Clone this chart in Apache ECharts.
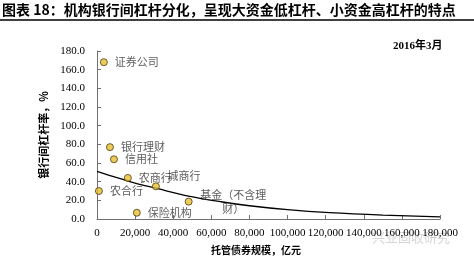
<!DOCTYPE html>
<html>
<head>
<meta charset="utf-8">
<script src="https://cdn.jsdelivr.net/npm/echarts@6/dist/echarts.min.js"></script>
<style>
html,body{margin:0;padding:0;background:#fff;}
#chart{width:474px;height:261px;}
</style>
</head>
<body>
<div id="chart"></div>
<script>
// Data
var names = ['证券公司', '银行理财', '信用社', '农商行', '城商行', '农合行', '基金（不含理\n财）', '保险机构'];
var scaleX = [3600, 6800, 8900, 16200, 30900, 1000, 48100, 20900];   // 托管债券规模, 亿元
var leverY = [168, 77, 64, 44, 35, 30, 18.6, 6.7];                    // 银行间杠杆率, %
// Trend line points
var trendX = [0, 10000, 20000, 31000, 48000, 65000, 80000, 100000, 122000, 150000, 180000];
var trendY = [51, 44.5, 38.5, 33, 24.5, 18.5, 14.2, 10, 6.8, 4.2, 2.3];
var xTicks = [0, 20000, 40000, 60000, 80000, 100000, 120000, 140000, 160000, 180000];
var yTicks = [0, 20, 40, 60, 80, 100, 120, 140, 160, 180];

var serif = '"Liberation Serif", "Noto Sans CJK SC", serif';
var cjk = '"Noto Sans CJK SC", sans-serif';

var scatterData = names.map(function (n, i) {
  var d = { name: n, value: [scaleX[i], leverY[i]] };
  if (n === '城商行') {
    d.label = { position: [15.5, -6.5], verticalAlign: 'middle', align: 'left' };
  } else if (i === 6) {
    d.label = { position: [48.5, 4.5], align: 'center', verticalAlign: 'middle', lineHeight: 14 };
  }
  return d;
});

var chart = echarts.init(document.getElementById('chart'), null, { renderer: 'canvas' });
chart.setOption({
  animation: false,
  backgroundColor: '#fff',
  grid: { left: 97, right: 34, top: 51, bottom: 42, containLabel: false },
  xAxis: {
    type: 'value',
    min: xTicks[0], max: xTicks[xTicks.length - 1], interval: 20000,
    name: '托管债券规模，亿元',
    nameLocation: 'middle',
    nameGap: 26,
    nameTextStyle: { fontFamily: cjk, fontWeight: 'bold', fontSize: 10, color: '#000', padding: [0, 25, 0, 0] },
    axisLine: { show: true, onZero: false, lineStyle: { color: '#707070', width: 1 } },
    axisTick: { show: true, inside: true, length: 4, lineStyle: { color: '#707070' } },
    axisLabel: {
      margin: 9, fontFamily: serif, fontSize: 11, color: '#000',
      formatter: function (v) { return v.toLocaleString('en-US'); }
    },
    splitLine: { show: false }
  },
  yAxis: {
    type: 'value',
    min: yTicks[0], max: yTicks[yTicks.length - 1], interval: 20,
    name: '银行间杠杆率，%',
    nameLocation: 'middle',
    nameGap: 42,
    nameRotate: 90,
    nameTextStyle: { fontFamily: cjk, fontWeight: 'bold', fontSize: 11, color: '#000' },
    axisLine: { show: true, lineStyle: { color: '#707070', width: 1 } },
    axisTick: { show: true, inside: true, length: 4, lineStyle: { color: '#707070' } },
    axisLabel: {
      margin: 12, fontFamily: serif, fontSize: 11, color: '#000',
      formatter: function (v) { return v.toFixed(1); }
    },
    splitLine: { show: false }
  },
  series: [
    {
      type: 'line',
      data: trendX.map(function (x, i) { return [x, trendY[i]]; }),
      smooth: 0.3,
      symbol: 'none',
      lineStyle: { color: '#000', width: 1.3 },
      z: 2,
      silent: true
    },
    {
      type: 'scatter',
      data: scatterData,
      symbol: 'circle',
      symbolSize: 7,
      itemStyle: { color: '#E8BE2E', borderColor: '#4a3c12', borderWidth: 1 },
      label: {
        show: true,
        position: 'right',
        distance: 7,
        formatter: '{b}',
        fontFamily: cjk,
        fontSize: 11,
        color: '#333'
      },
      z: 3
    }
  ],
  graphic: [
    {
      type: 'text', left: 2, top: 3,
      style: { text: '图表 18：机构银行间杠杆分化，呈现大资金低杠杆、小资金高杠杆的特点', font: 'bold 14px "Noto Sans CJK SC", sans-serif', fill: '#000' }
    },
    {
      type: 'line', shape: { x1: 0, y1: 20, x2: 474, y2: 20 },
      style: { stroke: '#000', lineWidth: 1.5 }
    },
    {
      type: 'text', left: 393, top: 41,
      style: { text: '2016年3月', font: 'bold 11px "Liberation Serif", "Noto Sans CJK SC", serif', fill: '#000' }
    },
    {
      type: 'text', left: 372, top: 231,
      style: { text: '兴业固收研究', font: '13px "Noto Sans CJK SC", sans-serif', fill: 'rgba(150,150,150,0.4)' }
    }
  ]
});
</script>
</body>
</html>
